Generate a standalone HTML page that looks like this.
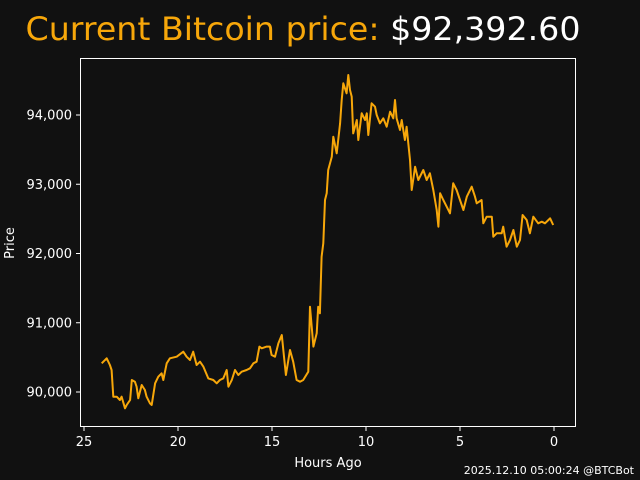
<!DOCTYPE html>
<html><head><meta charset="utf-8"><style>
html,body{margin:0;padding:0;background:#111111;}
svg{display:block;font-family:"DejaVu Sans","Liberation Sans",sans-serif;}
</style></head><body>
<svg id="chart" width="640" height="480" viewBox="0 0 640 480" xmlns="http://www.w3.org/2000/svg">
<rect x="0" y="0" width="640" height="480" fill="#111111"/>
<text x="303" y="40" text-anchor="middle" font-size="32" fill="#f7a70a" textLength="555" lengthAdjust="spacingAndGlyphs">Current Bitcoin price: <tspan fill="#ffffff">$92,392.60</tspan></text>
<rect x="80.5" y="58.5" width="495" height="368" fill="#111111" stroke="#ffffff" stroke-width="1"/>
<g id="xticks"></g>
<g id="yticks"></g>
<polyline id="line" fill="none" stroke="#f7a70a" stroke-width="2" stroke-linejoin="round"/>
<text x="328" y="467" text-anchor="middle" font-size="13" fill="#ffffff">Hours Ago</text>
<text transform="translate(14,243) rotate(-90)" text-anchor="middle" font-size="13" fill="#ffffff">Price</text>
<text x="634" y="474" text-anchor="end" font-size="11" fill="#ffffff">2025.12.10 05:00:24 @BTCBot</text>
</svg>
<script>
const hoursAgo=[24.06,23.79,23.62,23.53,23.44,23.26,23.09,23.00,22.82,22.73,22.55,22.46,22.29,22.20,22.11,21.93,21.76,21.67,21.49,21.40,21.22,21.05,20.87,20.78,20.60,20.43,20.07,19.72,19.54,19.36,19.19,19.01,18.83,18.65,18.39,18.12,17.94,17.77,17.59,17.41,17.32,17.14,16.97,16.79,16.61,16.35,16.17,15.99,15.82,15.67,15.55,15.28,15.11,15.02,14.84,14.66,14.48,14.36,14.26,14.04,13.87,13.69,13.51,13.34,13.07,12.98,12.80,12.62,12.54,12.45,12.36,12.27,12.18,12.09,12.01,11.82,11.74,11.56,11.38,11.29,11.21,11.03,10.94,10.85,10.76,10.68,10.49,10.41,10.23,10.05,9.96,9.88,9.70,9.52,9.43,9.26,9.08,8.90,8.72,8.55,8.46,8.37,8.19,8.10,7.93,7.84,7.66,7.57,7.39,7.22,6.95,6.77,6.60,6.42,6.24,6.15,6.06,5.89,5.71,5.53,5.36,5.18,5.00,4.82,4.64,4.38,4.20,4.11,3.85,3.76,3.58,3.31,3.23,3.05,2.78,2.70,2.52,2.34,2.16,1.98,1.81,1.67,1.45,1.28,1.10,0.84,0.65,0.48,0.30,0.21,0.04];
const prices=[90414,90487,90390,90318,89932,89932,89884,89932,89765,89812,89884,90173,90149,90077,89909,90101,90029,89932,89836,89812,90125,90221,90270,90173,90414,90487,90510,90582,90510,90462,90582,90390,90438,90365,90197,90173,90125,90173,90197,90318,90077,90173,90318,90245,90293,90318,90342,90414,90438,90655,90631,90655,90655,90534,90510,90703,90823,90510,90245,90607,90438,90173,90149,90173,90293,91232,90655,90848,91232,91136,91954,92147,92772,92869,93206,93398,93687,93447,93880,94217,94458,94313,94577,94361,94265,93735,93928,93639,94025,93928,94025,93711,94169,94120,94000,93880,93952,93831,94048,93952,94217,93952,93783,93928,93639,93831,93350,92917,93253,93061,93206,93061,93158,92917,92628,92387,92869,92772,92676,92580,93013,92917,92772,92628,92820,92965,92820,92725,92772,92436,92531,92531,92243,92291,92291,92387,92098,92195,92339,92098,92195,92556,92484,92291,92531,92436,92459,92436,92484,92508,92411];
const xTickValues=[25,20,15,10,5,0];
const yTickValues=[90000,91000,92000,93000,94000];
const yTickLabels=["90,000","91,000","92,000","93,000","94,000"];

const NS="http://www.w3.org/2000/svg";
function xs(h){return 554-h*18.8;}
function ys(p){return 392-(p-90000)*0.06925;}
const xg=document.getElementById('xticks'), yg=document.getElementById('yticks');
xTickValues.forEach(v=>{
  const x=xs(v);
  const l=document.createElementNS(NS,'line');
  
  
  l.setAttribute('x1',x);l.setAttribute('x2',x);l.setAttribute('y1',427);l.setAttribute('y2',431);
  l.setAttribute('stroke','#fff');
  xg.appendChild(l);
  const t=document.createElementNS(NS,'text');
  
  
  t.setAttribute('x',x);t.setAttribute('y',446);t.setAttribute('text-anchor','middle');
  t.setAttribute('font-size','13');t.setAttribute('fill','#fff');
  t.textContent=String(v);
  xg.appendChild(t);
});
yTickValues.forEach((v,i)=>{
  const y=ys(v);
  const l=document.createElementNS(NS,'line');
  
  
  l.setAttribute('x1',76);l.setAttribute('x2',80);l.setAttribute('y1',y);l.setAttribute('y2',y);
  l.setAttribute('stroke','#fff');
  yg.appendChild(l);
  const t=document.createElementNS(NS,'text');
  
  
  t.setAttribute('x',72);t.setAttribute('y',y+4.5);t.setAttribute('text-anchor','end');
  t.setAttribute('font-size','13');t.setAttribute('fill','#fff');
  t.textContent=yTickLabels[i];
  yg.appendChild(t);
});
document.getElementById('line').setAttribute('points',hoursAgo.map((h,i)=>xs(h).toFixed(1)+','+ys(prices[i]).toFixed(1)).join(' '));
</script>
</body></html>
